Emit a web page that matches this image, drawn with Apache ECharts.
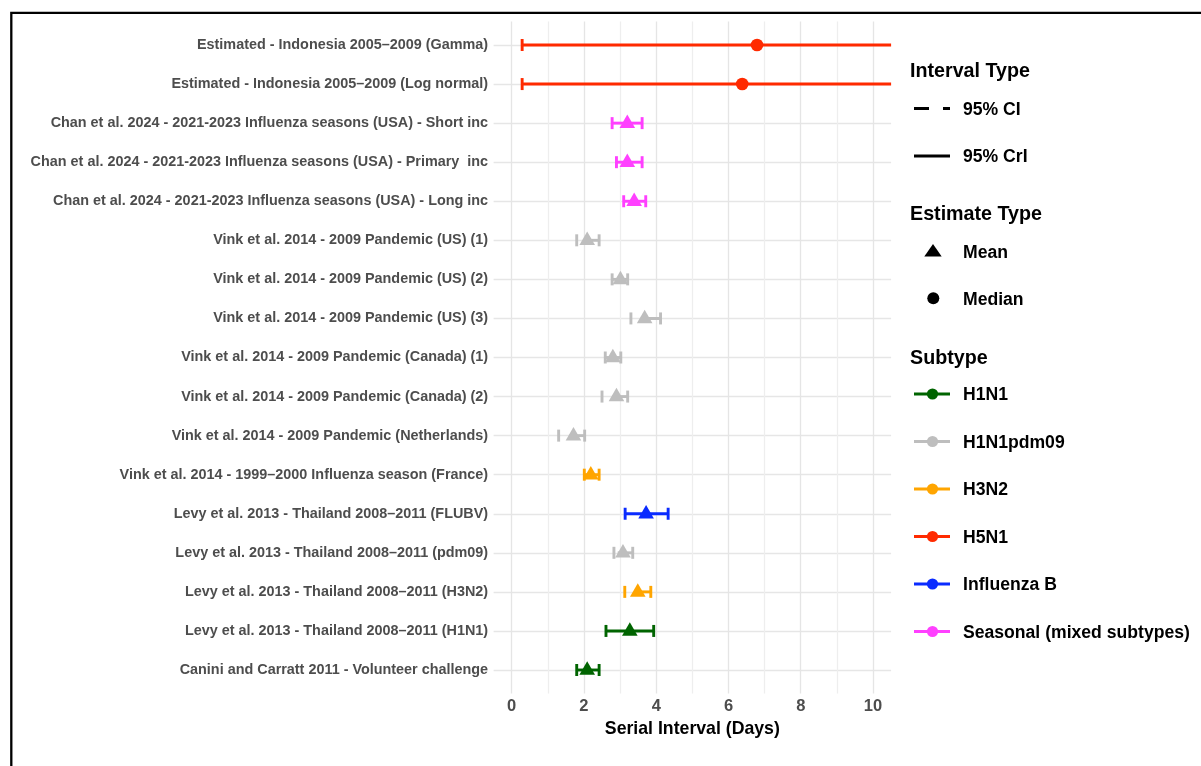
<!DOCTYPE html>
<html><head><meta charset="utf-8">
<script src="https://cdn.jsdelivr.net/npm/echarts@6/dist/echarts.min.js"></script>
<style>html,body{margin:0;padding:0;background:#fff}#c{width:1201px;height:766px}</style>
</head><body><div id="c"></div><script>
// ---------- data ----------
const categories = [
  'Estimated - Indonesia 2005\u20132009 (Gamma)',
  'Estimated - Indonesia 2005\u20132009 (Log normal)',
  'Chan et al. 2024 - 2021-2023 Influenza seasons (USA) - Short inc',
  'Chan et al. 2024 - 2021-2023 Influenza seasons (USA) - Primary  inc',
  'Chan et al. 2024 - 2021-2023 Influenza seasons (USA) - Long inc',
  'Vink et al. 2014 - 2009 Pandemic (US) (1)',
  'Vink et al. 2014 - 2009 Pandemic (US) (2)',
  'Vink et al. 2014 - 2009 Pandemic (US) (3)',
  'Vink et al. 2014 - 2009 Pandemic (Canada) (1)',
  'Vink et al. 2014 - 2009 Pandemic (Canada) (2)',
  'Vink et al. 2014 - 2009 Pandemic (Netherlands)',
  'Vink et al. 2014 - 1999\u20132000 Influenza season (France)',
  'Levy et al. 2013 - Thailand 2008\u20132011 (FLUBV)',
  'Levy et al. 2013 - Thailand 2008\u20132011 (pdm09)',
  'Levy et al. 2013 - Thailand 2008\u20132011 (H3N2)',
  'Levy et al. 2013 - Thailand 2008\u20132011 (H1N1)',
  'Canini and Carratt 2011 - Volunteer challenge'
];
const subtypes = ['H5N1','H5N1','Seasonal (mixed subtypes)','Seasonal (mixed subtypes)','Seasonal (mixed subtypes)',
  'H1N1pdm09','H1N1pdm09','H1N1pdm09','H1N1pdm09','H1N1pdm09','H1N1pdm09','H3N2',
  'Influenza B','H1N1pdm09','H3N2','H1N1','H1N1'];
const estimateTypes = ['Median','Median','Mean','Mean','Mean','Mean','Mean','Mean','Mean','Mean','Mean','Mean','Mean','Mean','Mean','Mean','Mean'];
const intervalTypes = ['95% CrI','95% CrI','95% CrI','95% CrI','95% CrI','95% CI','95% CI','95% CI','95% CI','95% CI','95% CI','95% CI',
  '95% CrI','95% CI','95% CI','95% CrI','95% CrI'];
const estimates = [6.79, 6.38, 3.20, 3.20, 3.39, 2.09, 3.01, 3.68, 2.80, 2.90, 1.71, 2.19, 3.72, 3.08, 3.49, 3.27, 2.09];
const lowers    = [0.29, 0.29, 2.78, 2.90, 3.10, 1.80, 2.78, 3.30, 2.59, 2.50, 1.30, 2.01, 3.14, 2.83, 3.13, 2.61, 1.80];
const uppers    = [15.0, 15.0, 3.61, 3.61, 3.71, 2.42, 3.21, 4.12, 3.02, 3.21, 2.02, 2.42, 4.33, 3.35, 3.85, 3.93, 2.42];
const xTickLabels = [0, 2, 4, 6, 8, 10];
const subtypeNames = ['H1N1','H1N1pdm09','H3N2','H5N1','Influenza B','Seasonal (mixed subtypes)'];
const subtypeColors = ['#006400','#BEBEBE','#FFA500','#FF2A00','#0A2BFF','#FF40FF'];
const intervalNames = ['95% CI','95% CrI'];
const estimateNames = ['Mean','Median'];

// ---------- chart ----------
const FONT = '"Liberation Sans", Arial, Helvetica, sans-serif';
const chart = echarts.init(document.getElementById('c'), null, {renderer: 'canvas'});

function colorOf(i) { return subtypeColors[subtypeNames.indexOf(subtypes[i])]; }

const seriesData = categories.map((c, i) => [estimates[i], i, lowers[i], uppers[i], i]);

function renderItem(params, api) {
  const i = api.value(4);
  const row = api.value(1);
  const pt = api.coord([api.value(0), row]);
  const lo = api.coord([api.value(2), row]);
  const hi = api.coord([api.value(3), row]);
  const cs = params.coordSys;
  const xMin = cs.x, xMax = cs.x + cs.width;
  const color = colorOf(i);
  const dashed = intervalTypes[i] === '95% CI';
  const y = pt[1];
  const st = {stroke: color, lineWidth: 2.9, fill: null};
  const children = [];
  const xr = Math.min(hi[0], xMax), xl = Math.max(lo[0], xMin);
  if (hi[0] <= xMax) children.push({type: 'line', shape: {x1: hi[0], y1: y - 6, x2: hi[0], y2: y + 6}, style: st});
  children.push({type: 'line', shape: {x1: xr, y1: y, x2: xl, y2: y},
    style: Object.assign({}, st, {lineDash: dashed ? [15, 14] : null})});
  if (lo[0] >= xMin) children.push({type: 'line', shape: {x1: lo[0], y1: y - 6, x2: lo[0], y2: y + 6}, style: st});
  if (estimateTypes[i] === 'Mean') {
    const x = pt[0];
    children.push({type: 'polygon', shape: {points: [[x, y - 8.7], [x - 7.8, y + 4.8], [x + 7.8, y + 4.8]]},
      style: {fill: color, stroke: null}});
  } else {
    children.push({type: 'circle', shape: {cx: pt[0], cy: y, r: 6.3}, style: {fill: color, stroke: null}});
  }
  return {type: 'group', children};
}

// legend graphics
const LX = 910, KX1 = 914, KX2 = 950, KC = 932.5, TX = 963, TY = 1.5;
const g = [];
g.push({type: 'rect', silent: true, shape: {x: 11.3, y: 12.8, width: 1260, height: 820},
  style: {fill: null, stroke: '#000', lineWidth: 2.3}});
function title(text, y) {
  g.push({type: 'text', x: LX, y: y + TY, style: {text, font: 'bold 19.7px ' + FONT, fill: '#000', verticalAlign: 'middle', align: 'left'}});
}
function label(text, y) {
  g.push({type: 'text', x: TX, y: y + TY, style: {text, font: 'bold 17.6px ' + FONT, fill: '#000', verticalAlign: 'middle', align: 'left'}});
}
title('Interval Type', 70);
const intervalY = [108.5, 156];
intervalNames.forEach((n, k) => {
  const y = intervalY[k];
  g.push({type: 'line', shape: {x1: KX1, y1: y, x2: KX2, y2: y},
    style: {stroke: '#000', lineWidth: 2.9, lineDash: n === '95% CI' ? [15, 14] : null}});
  label(n, y);
});
title('Estimate Type', 213.3);
const estY = [251.5, 298.3];
estimateNames.forEach((n, k) => {
  const y = estY[k];
  if (n === 'Mean') {
    g.push({type: 'polygon', shape: {points: [[933, y - 7.5], [924.3, y + 5], [941.7, y + 5]]}, style: {fill: '#000'}});
  } else {
    g.push({type: 'circle', shape: {cx: 933.3, cy: y, r: 6}, style: {fill: '#000'}});
  }
  label(n, y);
});
title('Subtype', 356.7);
subtypeNames.forEach((n, k) => {
  const y = 394 + k * 47.5;
  g.push({type: 'line', shape: {x1: KX1, y1: y, x2: KX2, y2: y}, style: {stroke: subtypeColors[k], lineWidth: 2.9}});
  g.push({type: 'circle', shape: {cx: KC, cy: y, r: 5.6}, style: {fill: subtypeColors[k]}});
  label(n, y);
});

const option = {
  backgroundColor: '#ffffff',
  animation: false,
  grid: [
    {left: 511.7, right: 328, top: 21.6, bottom: 72.6, containLabel: false, outerBoundsMode: 'none'},
    {left: 493.6, right: 309.9, top: 45, bottom: 96, containLabel: false, outerBoundsMode: 'none'}
  ],
  xAxis: [
    {type: 'value', gridIndex: 0, min: 0, max: 10, interval: 1,
      axisLine: {show: false}, axisTick: {show: false},
      splitLine: {show: true, lineStyle: {color: ['#e5e5e5', '#eeeeee'], width: 1.3}},
      axisLabel: {show: true, margin: 5, color: '#4d4d4d', fontFamily: FONT, fontWeight: 'bold', fontSize: 16.5,
        formatter: v => xTickLabels.indexOf(v) >= 0 ? String(v) : ''},
      name: 'Serial Interval (Days)', nameLocation: 'middle', nameGap: 23,
      nameTextStyle: {color: '#000', fontFamily: FONT, fontWeight: 'bold', fontSize: 17.7}},
    {type: 'value', gridIndex: 1, min: -0.5, max: 10.5, show: false}
  ],
  yAxis: [
    {type: 'value', gridIndex: 0, show: false, min: 0, max: 1, splitLine: {show: false}},
    {type: 'category', gridIndex: 1, data: categories, inverse: true, boundaryGap: false,
      axisLine: {show: false}, axisTick: {show: false},
      splitLine: {show: true, lineStyle: {color: '#e6e6e6', width: 1.4}},
      axisLabel: {interval: 0, margin: 5.5, color: '#4d4d4d', fontFamily: FONT, fontWeight: 'bold', fontSize: 14.4}}
  ],
  series: [{
    type: 'custom', xAxisIndex: 1, yAxisIndex: 1, data: seriesData, renderItem, clip: false, silent: true
  }],
  graphic: {elements: g}
};
chart.setOption(option);
</script></body></html>
